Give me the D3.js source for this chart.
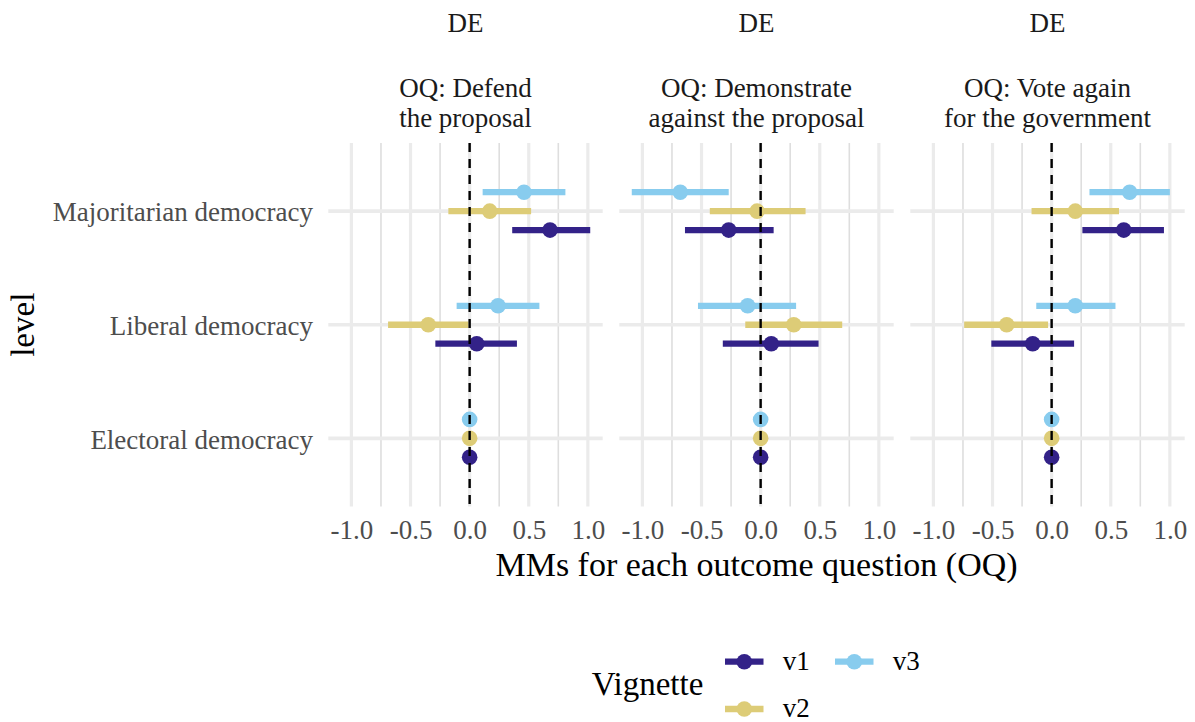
<!DOCTYPE html>
<html>
<head>
<meta charset="utf-8">
<script src="https://cdn.jsdelivr.net/npm/d3@7"></script>
<style>
  body { margin: 0; background: #fff; }
  text { font-family: "Liberation Serif", "Times New Roman", serif; }
</style>
</head>
<body>
<div id="chart"></div>
<script>
// levels top -> bottom, vignettes, facet titles
var levels = ["Majoritarian democracy", "Liberal democracy", "Electoral democracy"];
var vignettes = ["v1", "v2", "v3"];
var colours = ["#332288", "#DDCC77", "#88CCEE"];
var country = "DE";
var outcomes = [
    ["OQ: Defend", "the proposal"],
    ["OQ: Demonstrate", "against the proposal"],
    ["OQ: Vote again", "for the government"]
];
var majorTicks = [-1, -0.5, 0, 0.5, 1];
var minorTicks = [-0.75, -0.25, 0.25, 0.75];

// rows = levels (Majoritarian, Liberal, Electoral), cols = v1, v2, v3
var defendEst  = [[0.68, 0.17, 0.46], [0.06, -0.35, 0.24], [0, 0, 0]];
var defendLow  = [[0.36, -0.18, 0.11], [-0.29, -0.69, -0.11], [0, 0, 0]];
var defendHigh = [[1.02, 0.52, 0.81], [0.40, -0.01, 0.59], [0, 0, 0]];

var demoEst  = [[-0.27, -0.03, -0.68], [0.09, 0.28, -0.11], [0, 0, 0]];
var demoLow  = [[-0.64, -0.43, -1.09], [-0.32, -0.13, -0.53], [0, 0, 0]];
var demoHigh = [[0.11, 0.38, -0.27], [0.49, 0.69, 0.30], [0, 0, 0]];

var voteEst  = [[0.61, 0.20, 0.66], [-0.16, -0.38, 0.20], [0, 0, 0]];
var voteLow  = [[0.26, -0.17, 0.32], [-0.51, -0.74, -0.13], [0, 0, 0]];
var voteHigh = [[0.95, 0.57, 1.00], [0.19, -0.03, 0.54], [0, 0, 0]];

var panels = [
    { est: defendEst, low: defendLow, high: defendHigh },
    { est: demoEst, low: demoLow, high: demoHigh },
    { est: voteEst, low: voteLow, high: voteHigh }
];

var width = 1195, height = 722;
var panelLeft = 328.3, panelW = 274.4, panelGap = 16.6;
var panelTop = 143, panelBottom = 506.5;

var svg = d3.select('#chart')
    .append('svg')
    .attr('width', width)
    .attr('height', height);

// shared x domain, 5% expansion like ggplot
var allVals = [];
panels.forEach(function (p) {
    p.low.forEach(function (r) { allVals = allVals.concat(r); });
    p.high.forEach(function (r) { allVals = allVals.concat(r); });
});
var lo = d3.min(allVals), hi = d3.max(allVals);
var pad = (hi - lo) * 0.05;

var y = d3.scalePoint()
    .domain(levels)
    .range([panelTop, panelBottom])
    .padding(0.6);
var dodge = y.step() / 6;

var tickFmt = function (d) { return d.toFixed(1); };

panels.forEach(function (p, pi) {
    var x0 = panelLeft + pi * (panelW + panelGap);
    var x = d3.scaleLinear()
        .domain([lo - pad, hi + pad])
        .range([x0, x0 + panelW]);

    var g = svg.append('g');

    // grid
    g.selectAll('.minor')
        .data(minorTicks)
        .enter()
        .append('line')
        .attr('x1', d => x(d)).attr('x2', d => x(d))
        .attr('y1', panelTop).attr('y2', panelBottom)
        .attr('stroke', '#dedede')
        .attr('stroke-width', 1.6);
    g.selectAll('.major')
        .data(majorTicks)
        .enter()
        .append('line')
        .attr('x1', d => x(d)).attr('x2', d => x(d))
        .attr('y1', panelTop).attr('y2', panelBottom)
        .attr('stroke', '#ebebeb')
        .attr('stroke-width', 3.2);
    g.selectAll('.hgrid')
        .data(levels)
        .enter()
        .append('line')
        .attr('x1', x0).attr('x2', x0 + panelW)
        .attr('y1', d => y(d)).attr('y2', d => y(d))
        .attr('stroke', '#ebebeb')
        .attr('stroke-width', 3.6);

    // point ranges
    var rows = [];
    levels.forEach(function (lev, li) {
        vignettes.forEach(function (v, vi) {
            rows.push({
                level: lev, vi: vi,
                est: p.est[li][vi], low: p.low[li][vi], high: p.high[li][vi]
            });
        });
    });
    var yy = function (d) { return y(d.level) + (1 - d.vi) * dodge; };

    g.selectAll('.bar')
        .data(rows.filter(d => d.high > d.low))
        .enter()
        .append('line')
        .attr('x1', d => x(d.low)).attr('x2', d => x(d.high))
        .attr('y1', yy).attr('y2', yy)
        .attr('stroke', d => colours[d.vi])
        .attr('stroke-width', 6.3);
    g.selectAll('.pt')
        .data(rows)
        .enter()
        .append('circle')
        .attr('cx', d => x(d.est))
        .attr('cy', yy)
        .attr('r', 7.8)
        .attr('fill', d => colours[d.vi]);

    // zero line
    g.append('line')
        .attr('x1', x(0)).attr('x2', x(0))
        .attr('y1', panelTop).attr('y2', panelBottom)
        .attr('stroke', '#000')
        .attr('stroke-width', 2.4)
        .attr('stroke-dasharray', '9,7');

    // x axis
    var ax = g.append('g')
        .attr('transform', 'translate(0,' + panelBottom + ')')
        .call(d3.axisBottom(x).tickValues(majorTicks).tickFormat(tickFmt).tickSize(0).tickPadding(13));
    ax.select('.domain').remove();
    ax.selectAll('text')
        .style('font-family', '"Liberation Serif", serif')
        .style('font-size', '27px')
        .attr('fill', '#4d4d4d');

    // facet titles
    var cx = x0 + panelW / 2;
    g.append('text')
        .attr('x', cx).attr('y', 31.5)
        .attr('text-anchor', 'middle')
        .style('font-size', '27px')
        .attr('fill', '#1a1a1a')
        .text(country);
    g.append('text')
        .attr('x', cx).attr('y', 96.5)
        .attr('text-anchor', 'middle')
        .style('font-size', '27px')
        .attr('fill', '#1a1a1a')
        .text(outcomes[pi][0]);
    g.append('text')
        .attr('x', cx).attr('y', 126.5)
        .attr('text-anchor', 'middle')
        .style('font-size', '27px')
        .attr('fill', '#1a1a1a')
        .text(outcomes[pi][1]);
});

// y axis labels
svg.append('g')
    .selectAll('text')
    .data(levels)
    .enter()
    .append('text')
    .attr('x', 313)
    .attr('y', d => y(d))
    .attr('dy', '0.38em')
    .attr('text-anchor', 'end')
    .style('font-size', '27px')
    .attr('fill', '#4d4d4d')
    .text(d => d);

// axis titles
svg.append('text')
    .attr('x', (panelLeft + panelLeft + 3 * panelW + 2 * panelGap) / 2)
    .attr('y', 576)
    .attr('text-anchor', 'middle')
    .style('font-size', '34px')
    .attr('fill', '#000')
    .text('MMs for each outcome question (OQ)');

svg.append('text')
    .attr('transform', 'translate(34,' + (panelTop + panelBottom) / 2 + ') rotate(-90)')
    .attr('text-anchor', 'middle')
    .style('font-size', '33px')
    .attr('fill', '#000')
    .text('level');

// legend
svg.append('text')
    .attr('x', 591.7).attr('y', 695)
    .style('font-size', '33px')
    .attr('fill', '#000')
    .text('Vignette');

var legendPos = [[725, 661.7], [725, 709], [835, 661.7]];
var legend = svg.append('g')
    .selectAll('g')
    .data(vignettes)
    .enter()
    .append('g')
    .attr('transform', (d, i) => 'translate(' + legendPos[i][0] + ',' + legendPos[i][1] + ')');
legend.append('line')
    .attr('x1', 0).attr('x2', 38.5)
    .attr('stroke', (d, i) => colours[i])
    .attr('stroke-width', 6.3);
legend.append('circle')
    .attr('cx', 19.3).attr('r', 7.8)
    .attr('fill', (d, i) => colours[i]);
legend.append('text')
    .attr('x', 57.7).attr('dy', '0.3em')
    .style('font-size', '27px')
    .attr('fill', '#000')
    .text(d => d);
</script>
</body>
</html>
